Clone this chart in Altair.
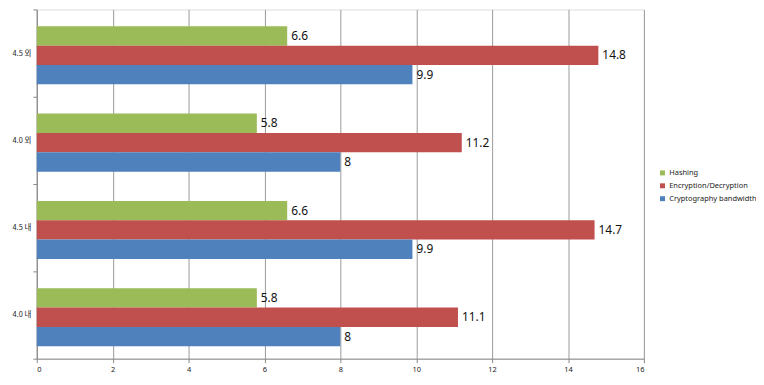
import altair as alt
import pandas as pd

categories = ["4.5 외", "4.0 외", "4.5 내", "4.0 내"]
series = ["Hashing", "Encryption/Decryption", "Cryptography bandwidth"]
colors = ["#9BBB59", "#C0504D", "#4F81BD"]
hashing = [6.6, 5.8, 6.6, 5.8]
encryption = [14.8, 11.2, 14.7, 11.1]
bandwidth = [9.9, 8, 9.9, 8]
x_ticks = [0, 2, 4, 6, 8, 10, 12, 14, 16]

rows = []
for i, c in enumerate(categories):
    for s, vals in zip(series, [hashing, encryption, bandwidth]):
        v = vals[i]
        rows.append({"cat": c, "series": s, "value": v,
                     "label": f"{v:g}"})
df = pd.DataFrame(rows)

y_enc = alt.Y("cat:N", sort=categories, title=None,
              scale=alt.Scale(paddingInner=0, paddingOuter=0),
              axis=alt.Axis(tickBand="extent", tickSize=4, domainColor="#888",
                            tickColor="#888", labelFontSize=7.5, labelColor="#222",
                            labelFont="Noto Sans CJK KR", labelPadding=2))
yoff = alt.YOffset("series:N", sort=series,
                   scale=alt.Scale(paddingInner=0, paddingOuter=0.755, align=0.576))

base = alt.Chart(df)
bars = base.mark_bar(size=19.5).encode(
    x=alt.X("value:Q", title=None,
            scale=alt.Scale(domain=[0, 16], nice=False),
            axis=alt.Axis(values=x_ticks, gridColor="#9a9a9a", domainColor="#888",
                          tickColor="#888", tickSize=4, labelFontSize=7.5,
                          labelColor="#222", labelFont="Noto Sans", labelPadding=3)),
    y=y_enc,
    yOffset=yoff,
    color=alt.Color("series:N", sort=series,
                    scale=alt.Scale(domain=series, range=colors),
                    legend=alt.Legend(title=None, orient="none", legendX=627, legendY=161,
                                      symbolType="square", symbolSize=25,
                                      labelFontSize=7.5, labelFont="Noto Sans",
                                      labelColor="#222", rowPadding=4, labelOffset=3,
                                      symbolStrokeWidth=0)),
)
texts = base.mark_text(align="left", baseline="middle", dx=4, fontSize=12,
                       font="Noto Sans", color="#111").encode(
    x="value:Q",
    y=alt.Y("cat:N", sort=categories),
    yOffset=yoff,
    text="label:N",
)

chart = (bars + texts).properties(
    width=612, height=352,
    autosize=alt.AutoSizeParams(type="none"),
    padding={"left": 29, "top": 0, "right": 113, "bottom": 17},
).configure_view(stroke=None).configure(background="white")

chart.save("out.html", embed_options={"renderer": "svg", "actions": False})
